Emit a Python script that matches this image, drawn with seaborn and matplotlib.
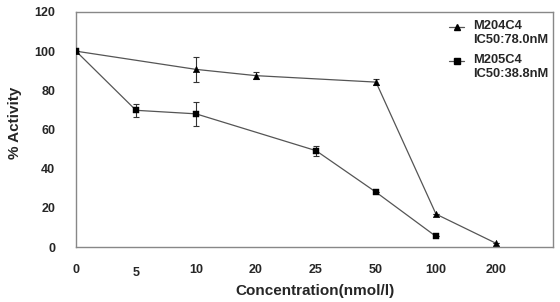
import numpy as np
import pandas as pd
import matplotlib
matplotlib.use("Agg")
import matplotlib.pyplot as plt
import seaborn as sns

# categories on the x axis (evenly spaced)
conc_labels = ["0", "5", "10", "20", "25", "50", "100", "200"]

# M204C4 (triangles)
m204_conc = ["0", "10", "20", "50", "100", "200"]
m204_val = [100, 90.7, 87.5, 84.2, 16.8, 1.9]
m204_err = [0, 6.5, 1.8, 1.6, 0, 0]

# M205C4 (squares)
m205_conc = ["0", "5", "10", "25", "50", "100"]
m205_val = [100, 69.8, 68.0, 49.2, 28.0, 5.4]
m205_err = [0, 3.2, 6.2, 2.6, 0, 0]

legend_names = ["M204C4", "M205C4"]
legend_ic50 = ["IC50:78.0nM", "IC50:38.8nM"]

sns.set_style("white")
plt.rcParams["font.family"] = ["Liberation Sans", "DejaVu Sans"]
plt.rcParams["font.weight"] = "bold"

pos = {c: i for i, c in enumerate(conc_labels)}
df = pd.concat([
    pd.DataFrame({"x": [pos[c] for c in m204_conc], "y": m204_val, "err": m204_err, "cmp": "M204C4"}),
    pd.DataFrame({"x": [pos[c] for c in m205_conc], "y": m205_val, "err": m205_err, "cmp": "M205C4"}),
], ignore_index=True)

fig = plt.figure(figsize=(5.6, 3.02), dpi=100)
ax = fig.add_axes([76/560, 1 - 247/302, 477/560, 235/302])

grey = "#555555"
markers = {"M204C4": "^", "M205C4": "s"}
for name, mk in markers.items():
    sub = df[df.cmp == name]
    sns.lineplot(data=sub, x="x", y="y", color=grey, lw=0.9, ax=ax, legend=False)
    ax.errorbar(sub.x, sub.y, yerr=sub.err, fmt="none", ecolor="#333333",
                elinewidth=0.8, capsize=2.5, capthick=0.8)
    sns.scatterplot(data=sub, x="x", y="y", marker=mk, color="black", s=22,
                    edgecolor="black", linewidth=0.3, ax=ax, legend=False, zorder=5)

ax.set_xlim(0, 7.95)
ax.set_ylim(0, 120)
ax.set_yticks(range(0, 121, 20))
ax.set_xticks(range(len(conc_labels)))
ax.set_xticklabels(conc_labels)
for i, t in enumerate(ax.get_xticklabels()):
    if conc_labels[i] == "5":
        t.set_y(-0.016)
ax.tick_params(axis="x", direction="out", length=4, pad=8, labelsize=9, color="#888888")
ax.tick_params(axis="y", direction="out", length=4, pad=11, labelsize=9, color="#888888")
for lab in ax.get_xticklabels() + ax.get_yticklabels():
    lab.set_fontweight("bold")
for s in ax.spines.values():
    s.set_color("#888888")
    s.set_linewidth(1.0)

ax.set_xlabel("Concentration(nmol/l)", fontsize=11, fontweight="bold", labelpad=3)
ax.set_ylabel("% Activity", fontsize=11, fontweight="bold")
ax.yaxis.set_label_coords(-0.113, 0.53)

# legend drawn by hand: handle sits beside the first line of each label
for k, name in enumerate(legend_names):
    ty = 0.935 - k * 0.145
    ax.plot([0.783, 0.813], [ty, ty], color=grey, lw=0.9, transform=ax.transAxes, clip_on=False)
    ax.plot([0.798], [ty], marker=markers[name], color="black", ms=4,
            transform=ax.transAxes, clip_on=False)
    ax.text(0.832, ty + 0.03, name + "\n" + legend_ic50[k], transform=ax.transAxes,
            fontsize=9.3, fontweight="bold", va="top", ha="left", linespacing=1.2)

fig.savefig("out.png", dpi=100)
